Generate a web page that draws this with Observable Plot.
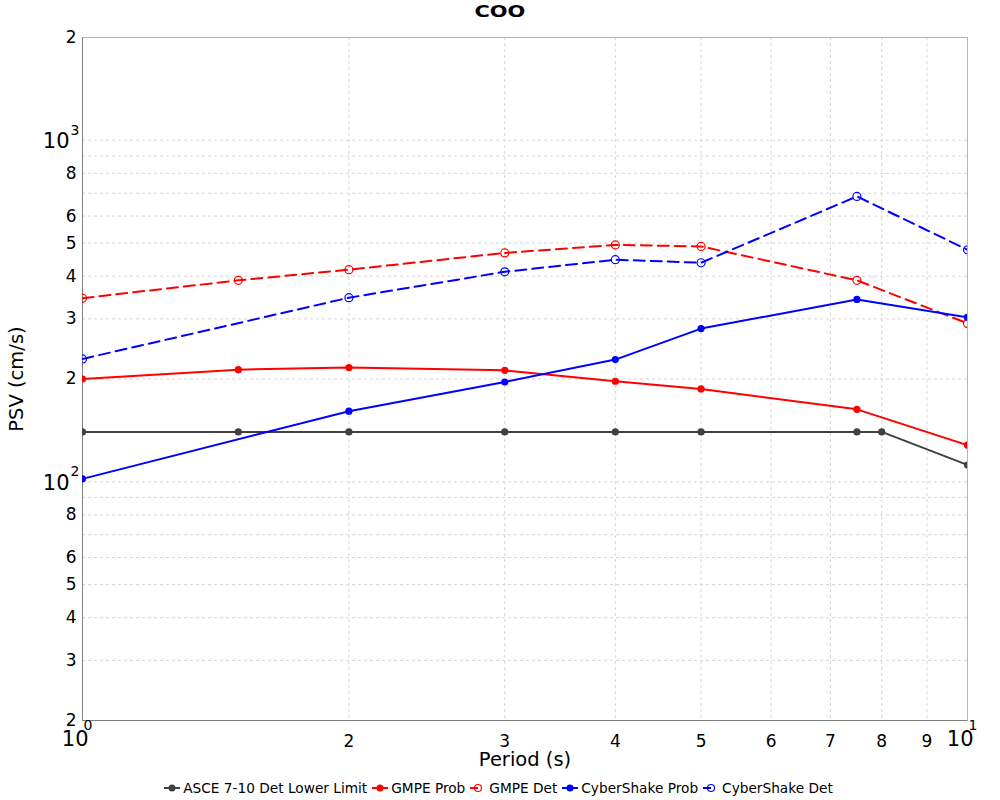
<!DOCTYPE html>
<html><head><meta charset="utf-8">
<script src="https://cdn.jsdelivr.net/npm/d3@7"></script>
<script src="https://cdn.jsdelivr.net/npm/@observablehq/plot@0.6"></script>
<style>
body{margin:0;background:#fff;font-family:"DejaVu Sans",sans-serif;width:1000px;}
#title{height:26px;line-height:24px;text-align:center;color:#000;}
#title span{display:inline-block;font-weight:bold;font-size:15.5px;transform:scaleX(1.35);}
#chart svg{display:block;}
#legend{height:24px;display:flex;justify-content:center;align-items:center;font-size:13.7px;color:#000;}
#legend .item{display:flex;align-items:center;margin-right:4px;}
#legend svg{margin-right:2px;}
</style></head><body>
<div id="title"><span>COO</span></div>
<div id="chart"></div>
<div id="legend"></div>
<script>
const periods = [1, 1.5, 2, 3, 4, 5, 7.5, 10];
const ascePeriods = [1, 1.5, 2, 3, 4, 5, 7.5, 8, 10];
const asceValues = [140, 140, 140, 140, 140, 140, 140, 140, 112];
const gmpeProb = [200, 213, 216, 212, 197, 187, 163, 128];
const gmpeDet = [345, 389, 418, 468, 494, 489, 389, 291];
const csPeriods = [1, 2, 3, 4, 5, 7.5, 10];
const csProb = [102, 161, 196, 228, 281, 342, 303];
const csDet = [229, 346, 412, 447, 438, 685, 478];

const seriesNames = ["ASCE 7-10 Det Lower Limit", "GMPE Prob", "GMPE Det", "CyberShake Prob", "CyberShake Det"];
const seriesColors = ["#404040", "#ff0000", "#ff0000", "#0000ff", "#0000ff"];
const seriesDashed = [false, false, true, false, true];

const xGridTicks = [1, 2, 3, 4, 5, 6, 7, 8, 9, 10];
const xLabelTicks = [2, 3, 4, 5, 6, 7, 8, 9];
const xPowerTicks = [1, 10];
const yGridTicks = [20, 30, 40, 50, 60, 70, 80, 90, 100, 200, 300, 400, 500, 600, 700, 800, 900, 1000, 2000];
const yLabelTicks = [20, 30, 40, 50, 60, 80, 200, 300, 400, 500, 600, 800, 2000];
const yPowerTicks = [100, 1000];

const mk = (xs, ys) => xs.map((x, i) => ({x, y: ys[i]}));
const data = [
  mk(ascePeriods, asceValues),
  mk(periods, gmpeProb),
  mk(periods, gmpeDet),
  mk(csPeriods, csProb),
  mk(csPeriods, csDet)
];

const lead = d => String(Math.round(d / Math.pow(10, Math.floor(Math.log10(d) + 1e-9))));
const expo = d => String(Math.round(Math.log10(d)));

const marks = [
  Plot.gridX(xGridTicks, {stroke: "#d6d6d6", strokeOpacity: 1, strokeDasharray: "3,3"}),
  Plot.gridY(yGridTicks, {stroke: "#d6d6d6", strokeOpacity: 1, strokeDasharray: "3,3"}),
  Plot.frame({stroke: "#b4b4b4"}),
  Plot.ruleX([1], {stroke: "#808080"}),
  Plot.ruleY([20], {stroke: "#808080"}),
  Plot.axisX(xLabelTicks, {tickSize: 0, tickPadding: 14, tickFormat: d => String(d), fontSize: 17, label: null}),
  Plot.axisY(yLabelTicks, {tickSize: 0, tickPadding: 6, tickFormat: lead, fontSize: 17, label: null}),
  Plot.text(xPowerTicks, {x: d => d, frameAnchor: "bottom", text: () => "10", textAnchor: "end", dx: 6, dy: 25, fontSize: 21}),
  Plot.text(xPowerTicks, {x: d => d, frameAnchor: "bottom", text: expo, textAnchor: "start", dx: 1, dy: 9, fontSize: 14}),
  Plot.text(yPowerTicks, {y: d => d, frameAnchor: "left", text: () => "10", textAnchor: "end", dx: -13, dy: 1, fontSize: 21}),
  Plot.text(yPowerTicks, {y: d => d, frameAnchor: "left", text: expo, textAnchor: "start", dx: -12, dy: -10, fontSize: 14}),
  Plot.text(["PSV (cm/s)"], {frameAnchor: "left", textAnchor: "middle", rotate: -90, dx: -66, fontSize: 19.5}),
  Plot.text(["Period (s)"], {frameAnchor: "bottom", textAnchor: "middle", dy: 45, fontSize: 19.5})
];

data.forEach((d, i) => {
  marks.push(Plot.line(d, {x: "x", y: "y", stroke: seriesColors[i], strokeWidth: 2, strokeDasharray: seriesDashed[i] ? "11,6" : null, clip: true}));
  if (seriesDashed[i]) {
    marks.push(Plot.dot(d, {x: "x", y: "y", r: 4, stroke: seriesColors[i], strokeWidth: 1.2, fill: "none", clip: true}));
  } else {
    marks.push(Plot.dot(d, {x: "x", y: "y", r: 3.6, fill: seriesColors[i], stroke: "none", clip: true}));
  }
});

const chart = Plot.plot({
  width: 1000,
  height: 750,
  marginTop: 11,
  marginBottom: 56,
  marginLeft: 82,
  marginRight: 33,
  style: {fontFamily: "DejaVu Sans, sans-serif", fontSize: "17px", color: "#000", background: "#fff"},
  x: {type: "log", domain: [1, 10], axis: null},
  y: {type: "log", domain: [20, 2000], axis: null},
  marks
});
document.getElementById("chart").appendChild(chart);

const legend = document.getElementById("legend");
seriesNames.forEach((name, i) => {
  const item = document.createElement("div");
  item.className = "item";
  const c = seriesColors[i];
  const sw = seriesDashed[i]
    ? `<svg width="18" height="12"><line x1="1" y1="6" x2="9" y2="6" stroke="${c}" stroke-width="2"/><circle cx="9" cy="6" r="3.5" fill="none" stroke="${c}" stroke-width="1.2"/></svg>`
    : `<svg width="18" height="12"><line x1="1" y1="6" x2="17" y2="6" stroke="${c}" stroke-width="2"/><circle cx="9" cy="6" r="3.5" fill="${c}"/></svg>`;
  item.innerHTML = sw + `<span>${name}</span>`;
  legend.appendChild(item);
});
</script>
</body></html>
